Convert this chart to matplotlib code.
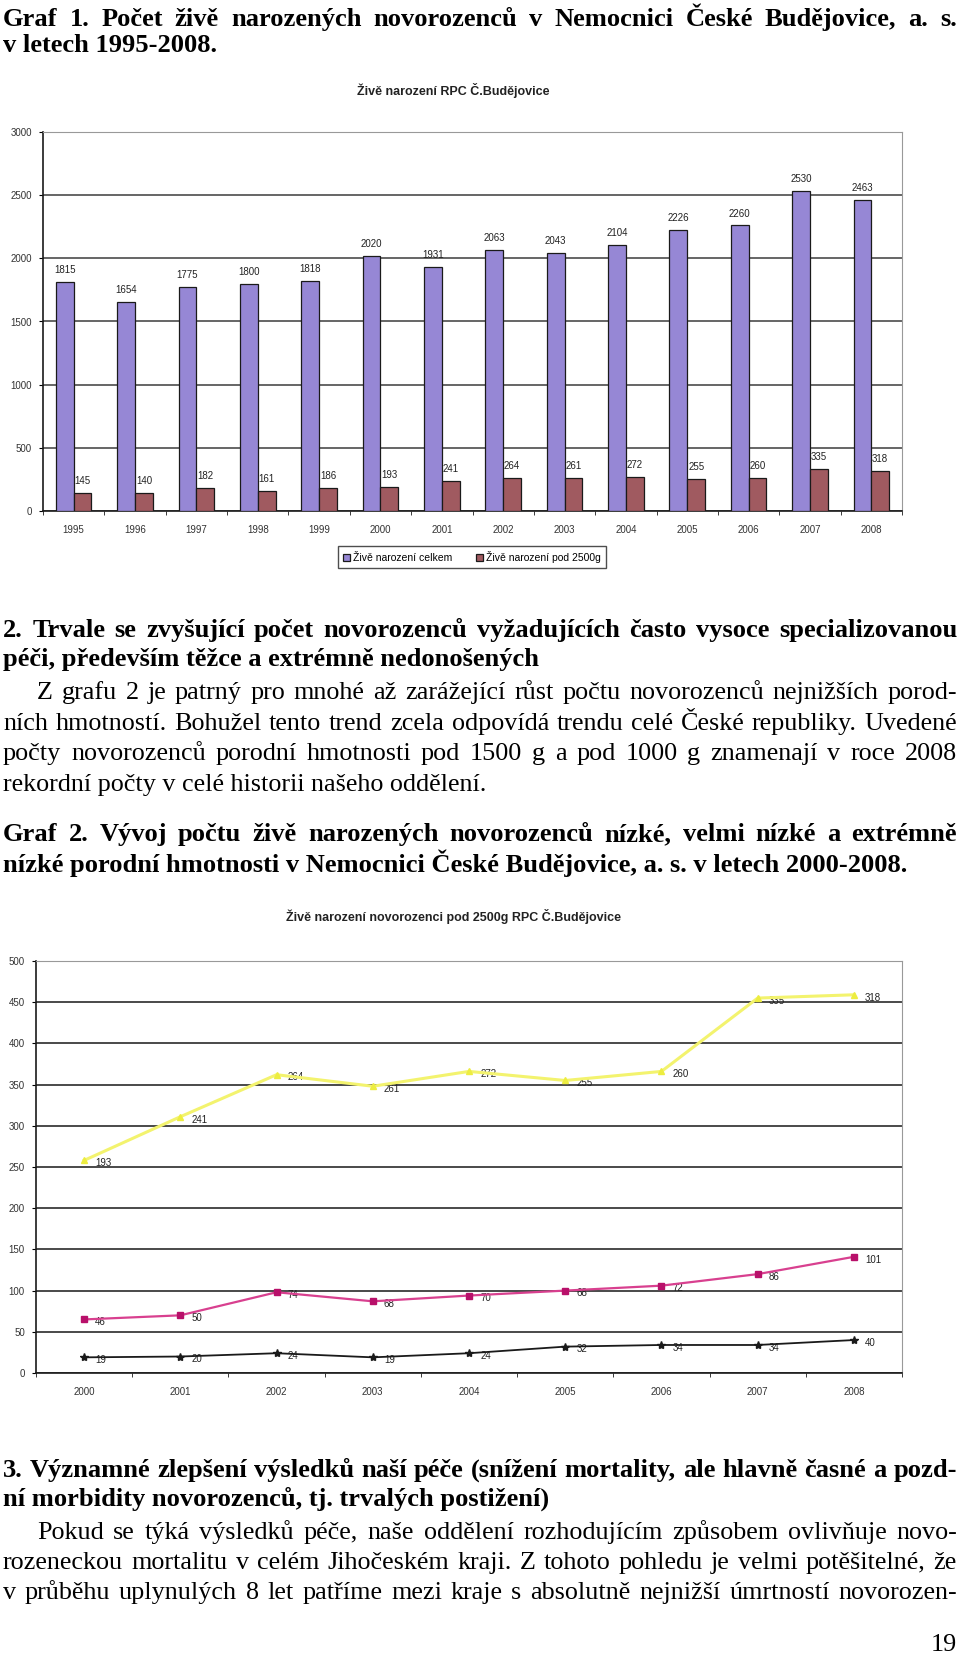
import numpy as np
import matplotlib
matplotlib.use("Agg")
import matplotlib.pyplot as plt

W, H = 960, 1655

# graf 1 data
years1 = ["1995", "1996", "1997", "1998", "1999", "2000", "2001",
          "2002", "2003", "2004", "2005", "2006", "2007", "2008"]
births_total = [1815, 1654, 1775, 1800, 1818, 2020, 1931, 2063, 2043, 2104, 2226, 2260, 2530, 2463]
births_under2500 = [145, 140, 182, 161, 186, 193, 241, 264, 261, 272, 255, 260, 335, 318]

# graf 2 data (stacked lines, labels show own values)
years2 = ["2000", "2001", "2002", "2003", "2004", "2005", "2006", "2007", "2008"]
under1000 = [19, 20, 24, 19, 24, 32, 34, 34, 40]
g1000_1499 = [46, 50, 74, 68, 70, 68, 72, 86, 101]
under2500 = [193, 241, 264, 261, 272, 255, 260, 335, 318]

fig = plt.figure(figsize=(W / 100, H / 100), dpi=100)
fig.patch.set_facecolor("white")
r = fig.canvas.get_renderer()

SERIF = "Liberation Serif"
SANS = "Liberation Sans"


def fit_size(sample, target, **kw):
    t = fig.text(0, 0, sample, fontsize=10, **kw)
    w = t.get_window_extent(r).width
    t.remove()
    return 10 * target / w


body_fs = 0.94 * fit_size("rekordní počty v celé historii našeho oddělení.", 514, family=SERIF)
bold_fs = fit_size("nízké porodní hmotnosti v Nemocnici České Budějovice, a. s. v letech 2000-2008.",
                   906, family=SERIF, weight="bold")


def line(s, y, x0=3, x1=957, justify=True, bold=False):
    kw = dict(family=SERIF, fontsize=bold_fs if bold else body_fs,
              weight="bold" if bold else "normal", va="baseline", ha="left")
    fy = 1 - y / H
    if not justify:
        fig.text(x0 / W, fy, s, **kw)
        return
    words = s.split(" ")
    ts = [fig.text(0, fy, w, **kw) for w in words]
    ws = [t.get_window_extent(r).width for t in ts]
    gap = (x1 - x0 - sum(ws)) / (len(ws) - 1)
    x = x0
    for t, w in zip(ts, ws):
        t.set_x(x / W)
        x += w + gap


# --- text above chart 1
line("Graf 1. Počet živě narozených novorozenců v Nemocnici České Budějovice, a. s.", 26, bold=True)
line("v letech 1995-2008.", 52, justify=False, bold=True)

# --- chart 1
ax1 = fig.add_axes([43 / W, 1 - 511 / H, 859 / W, 379 / H])
x1 = np.arange(len(years1))
bw = 0.29
ax1.bar(x1 - bw / 2, births_total, bw, color="#9687d5", edgecolor="#1a1a1a", lw=0.9,
        label="Živě narození celkem", zorder=3)
ax1.bar(x1 + bw / 2, births_under2500, bw, color="#a05a60", edgecolor="#1a1a1a", lw=0.9,
        label="Živě narození pod 2500g", zorder=3)
for xi, v in zip(x1, births_total):
    ax1.annotate(str(v), (xi - bw / 2, v), xytext=(0, 5), textcoords="offset points",
                 ha="center", va="bottom", fontsize=7, family=SANS, color="#222222")
for xi, v in zip(x1, births_under2500):
    ax1.annotate(str(v), (xi + bw / 2, v), xytext=(0, 5), textcoords="offset points",
                 ha="center", va="bottom", fontsize=7, family=SANS, color="#222222")
ax1.set_xlim(-0.5, len(years1) - 0.5)
ax1.set_ylim(0, 3000)
ax1.set_yticks(np.arange(0, 3001, 500))
ax1.set_xticks(x1)
ax1.set_xticklabels(years1)
ax1.set_xticks(np.arange(-0.5, len(years1), 1), minor=True)
ax1.yaxis.grid(True, color="#3c3c3c", lw=1.1, zorder=0)
ax1.set_axisbelow(True)

fig.text(453 / W, 1 - 90 / H, "Živě narození RPC Č.Budějovice", ha="center", va="center",
         fontsize=9, weight="bold", family=SANS, color="#222222")
ax1.legend(loc="center", bbox_to_anchor=(472 / W, 1 - 557 / H), bbox_transform=fig.transFigure,
           ncol=2, prop=dict(family=SANS, size=7.5), frameon=True, fancybox=False,
           edgecolor="#222222", handlelength=0.7, handleheight=0.7, handletextpad=0.3,
           columnspacing=2.2, borderpad=0.5)

# --- chart 2
ax2 = fig.add_axes([36 / W, 1 - 1373 / H, 866 / W, 412 / H])
x2 = np.arange(len(years2))
s1 = np.array(under1000)
s2 = s1 + np.array(g1000_1499)
s3 = s2 + np.array(under2500)
ax2.plot(x2, s3, color="#f3f36e", lw=2.2, marker="^", ms=5, mfc="#eded40", mec="#eded40", zorder=4)
ax2.plot(x2, s2, color="#d8408f", lw=1.6, marker="s", ms=5, mfc="#b8106a", mec="#b8106a", zorder=4)
ax2.plot(x2, s1, color="#1a1a1a", lw=1.3, marker="*", ms=6, zorder=4)
for ys, vals in ((s3, under2500), (s2, g1000_1499), (s1, under1000)):
    for xi, yv, v in zip(x2, ys, vals):
        ax2.annotate(str(v), (xi, yv), xytext=(8, -2), textcoords="offset points",
                     ha="left", va="center", fontsize=7, family=SANS, color="#222222")
ax2.set_xlim(-0.5, len(years2) - 0.5)
ax2.set_ylim(0, 500)
ax2.set_yticks(np.arange(0, 501, 50))
ax2.set_xticks(x2)
ax2.set_xticklabels(years2)
ax2.set_xticks(np.arange(-0.5, len(years2), 1), minor=True)
ax2.yaxis.grid(True, color="#2a2a2a", lw=1.2, zorder=0)
ax2.set_axisbelow(True)
fig.text(454 / W, 1 - 916 / H, "Živě narození novorozenci pod 2500g RPC Č.Budějovice",
         ha="center", va="center", fontsize=9, weight="bold", family=SANS, color="#222222")

for ax in (ax1, ax2):
    ax.spines["left"].set_color("#1a1a1a")
    ax.spines["bottom"].set_color("#1a1a1a")
    ax.spines["left"].set_linewidth(1.2)
    ax.spines["bottom"].set_linewidth(1.2)
    ax.spines["top"].set_color("#999999")
    ax.spines["right"].set_color("#999999")
    ax.tick_params(axis="x", which="major", length=0, pad=10, labelsize=7)
    ax.tick_params(axis="x", which="minor", length=3, color="#1a1a1a")
    ax.tick_params(axis="y", length=3, pad=5, labelsize=7)
    for lab in ax.get_xticklabels() + ax.get_yticklabels():
        lab.set_family(SANS)
        lab.set_color("#333333")

# --- text between the charts
line("2. Trvale se zvyšující počet novorozenců vyžadujících často vysoce specializovanou", 637, bold=True)
line("péči, především těžce a extrémně nedonošených", 666, justify=False, bold=True)
line("Z grafu 2 je patrný pro mnohé až zarážející růst počtu novorozenců nejnižších porod-", 699, x0=37)
line("ních hmotností. Bohužel tento trend zcela odpovídá trendu celé České republiky. Uvedené", 730)
line("počty novorozenců porodní hmotnosti pod 1500 g a pod 1000 g znamenají v roce 2008", 760)
line("rekordní počty v celé historii našeho oddělení.", 791, justify=False)
line("Graf 2. Vývoj počtu živě narozených novorozenců nízké, velmi nízké a extrémně", 841, bold=True)
line("nízké porodní hmotnosti v Nemocnici České Budějovice, a. s. v letech 2000-2008.", 872,
     justify=False, bold=True)

# --- text below chart 2
line("3. Významné zlepšení výsledků naší péče (snížení mortality, ale hlavně časné a pozd-", 1477, bold=True)
line("ní morbidity novorozenců, tj. trvalých postižení)", 1506, justify=False, bold=True)
line("Pokud se týká výsledků péče, naše oddělení rozhodujícím způsobem ovlivňuje novo-", 1539, x0=37)
line("rozeneckou mortalitu v celém Jihočeském kraji. Z tohoto pohledu je velmi potěšitelné, že", 1569)
line("v průběhu uplynulých 8 let patříme mezi kraje s absolutně nejnižší úmrtností novorozen-", 1599)
fig.text(957 / W, 1 - 1651 / H, "19", ha="right", va="baseline", family=SERIF, fontsize=body_fs)

fig.savefig("out.png", dpi=100)
